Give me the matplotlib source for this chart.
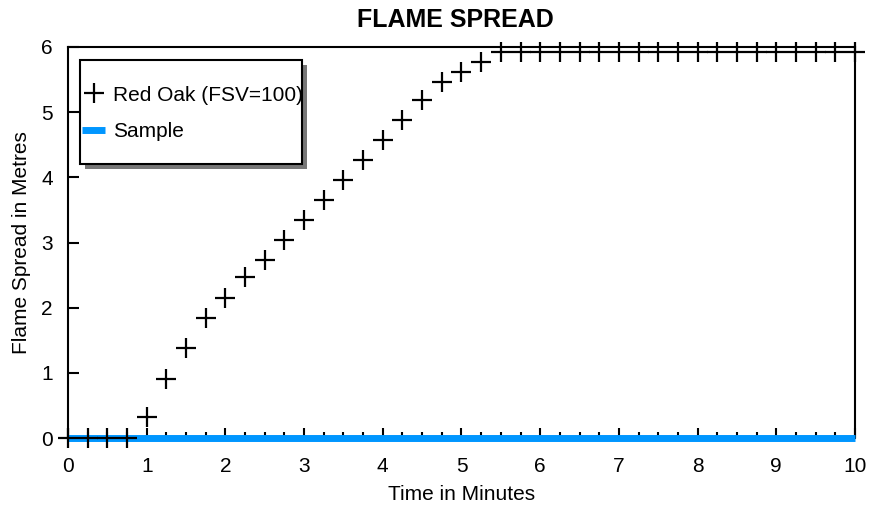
import matplotlib
matplotlib.use("Agg")
import matplotlib.pyplot as plt
from matplotlib.patches import Rectangle

plt.rcParams['font.family'] = ['Liberation Sans', 'DejaVu Sans']

# Red Oak reference curve (minutes, metres)
oak_time = [0, 0.25, 0.5, 0.75, 1, 1.25, 1.5, 1.75, 2, 2.25, 2.5, 2.75,
            3, 3.25, 3.5, 3.75, 4, 4.25, 4.5, 4.75, 5, 5.25, 5.5, 5.75,
            6, 6.25, 6.5, 6.75, 7, 7.25, 7.5, 7.75, 8, 8.25, 8.5, 8.75,
            9, 9.25, 9.5, 9.75, 10]
oak_spread = [0, 0, 0, 0, 0.32, 0.91, 1.38, 1.84, 2.15, 2.47, 2.73, 3.04,
              3.34, 3.65, 3.96, 4.26, 4.57, 4.88, 5.18, 5.46, 5.61, 5.77, 5.93, 5.93,
              5.93, 5.93, 5.93, 5.93, 5.93, 5.93, 5.93, 5.93, 5.93, 5.93, 5.93, 5.93,
              5.93, 5.93, 5.93, 5.93, 5.93]

# sample: no flame spread at all
sample_time = [0, 10]
sample_spread = [0, 0]

x_ticks = [0, 1, 2, 3, 4, 5, 6, 7, 8, 9, 10]
y_ticks = [0, 1, 2, 3, 4, 5, 6]

fig = plt.figure(figsize=(8.7, 5.07), dpi=100)
ax = fig.add_axes([68/870, 1-438/507, 787/870, 391/507])

blue = '#0096ff'
l_sample, = ax.plot(sample_time, sample_spread, color=blue, lw=5,
                    solid_capstyle='butt', clip_on=False, zorder=3)
l_oak, = ax.plot(oak_time, oak_spread, ls='none', marker='+', ms=14, mew=1.6,
                 color='black', clip_on=False, zorder=4)

ax.set_xlim(0, 10)
ax.set_ylim(0, 6)
ax.set_xticks(x_ticks)
ax.set_xticks(oak_time, minor=True)
ax.set_yticks(y_ticks)
ax.tick_params(axis='x', which='major', direction='in', length=7, width=1.5,
               pad=13.5, labelsize=15)
ax.tick_params(axis='x', which='minor', direction='in', length=4, width=1.5)
ax.tick_params(axis='y', direction='in', length=8, width=1.5, pad=11, labelsize=15)
for s in ax.spines.values():
    s.set_linewidth(1.5)
ax.spines['bottom'].set_visible(False)

ax.set_xlabel('Time in Minutes', fontsize=15, labelpad=7)
ax.set_ylabel('Flame Spread in Metres', fontsize=15, labelpad=7)
fig.text(0.523, 1-20/507, 'FLAME SPREAD', ha='center', va='center',
         fontsize=18, fontweight='bold')

# legend box with hard grey shadow
bx, by, bw, bh = 12/787, 1-117/391, 222/787, 104/391
ax.add_patch(Rectangle((bx + 5/787, by - 5/391), bw, bh, transform=ax.transAxes,
                       facecolor='#777777', edgecolor='none', zorder=5, clip_on=False))
ax.add_patch(Rectangle((bx, by), bw, bh, transform=ax.transAxes,
                       facecolor='white', edgecolor='black', lw=1.5, zorder=6, clip_on=False))
leg = ax.legend([l_oak, l_sample], ['Red Oak (FSV=100)', 'Sample'],
                loc='center left', bbox_to_anchor=(bx, by + bh/2 - 1.5/391), frameon=False,
                fontsize=15, borderpad=0.1, borderaxespad=0, handlelength=1.1,
                handletextpad=0.4, labelspacing=0.85, numpoints=1)
leg.set_zorder(7)

fig.savefig('out.png', dpi=100)
